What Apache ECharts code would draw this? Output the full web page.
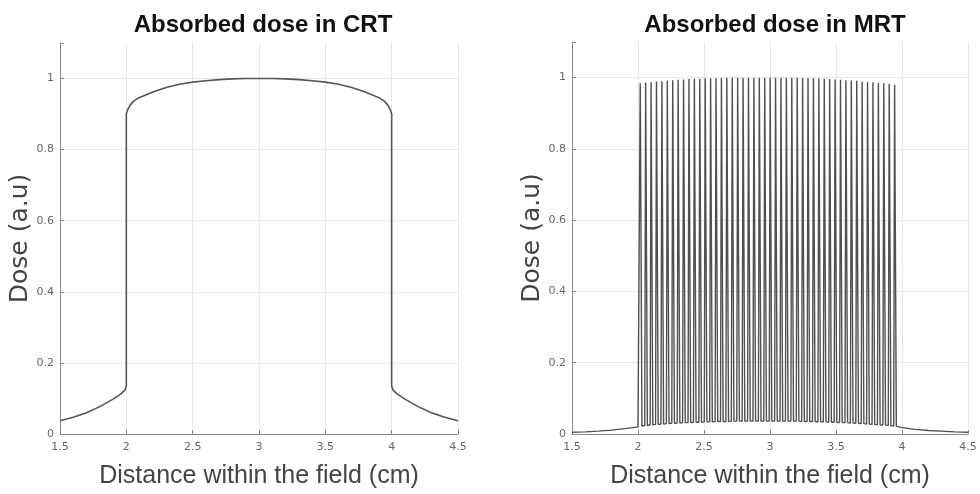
<!DOCTYPE html>
<html>
<head>
<meta charset="utf-8">
<script src="https://cdn.jsdelivr.net/npm/echarts@6/dist/echarts.min.js"></script>
<style>html,body{margin:0;padding:0;background:#fff;}#c{width:980px;height:494px;}</style>
</head>
<body>
<div id="c"></div>
<script>
// ---- Data ----
const xTicks = [1.5, 2, 2.5, 3, 3.5, 4, 4.5];
const yTicks = [0, 0.2, 0.4, 0.6, 0.8, 1];

// CRT dose profile
const crtX = [1.5, 1.6, 1.7, 1.8, 1.9, 1.96, 1.99, 2.0, 2.0, 2.01, 2.03, 2.06, 2.1, 2.2, 2.3, 2.4, 2.5, 2.6, 2.7, 2.8, 2.9, 3.0, 3.1, 3.2, 3.3, 3.4, 3.5, 3.6, 3.7, 3.8, 3.9, 3.94, 3.97, 3.99, 4.0, 4.0, 4.01, 4.04, 4.1, 4.2, 4.3, 4.4, 4.5];
const crtY = [0.037, 0.047, 0.060, 0.077, 0.098, 0.113, 0.124, 0.135, 0.900, 0.912, 0.926, 0.938, 0.947, 0.962, 0.975, 0.984, 0.990, 0.994, 0.997, 0.999, 1.000, 1.000, 1.000, 0.999, 0.997, 0.994, 0.990, 0.984, 0.975, 0.962, 0.947, 0.938, 0.926, 0.912, 0.900, 0.135, 0.124, 0.113, 0.098, 0.077, 0.060, 0.047, 0.037];

// MRT dose profile: peak centres, peak heights, valley heights
const mrtPeakX = [2.020, 2.061, 2.102, 2.143, 2.184, 2.225, 2.266, 2.307, 2.348, 2.389,
  2.430, 2.471, 2.512, 2.553, 2.594, 2.635, 2.676, 2.717, 2.758, 2.799,
  2.840, 2.881, 2.922, 2.963, 3.004, 3.045, 3.086, 3.127, 3.168, 3.209,
  3.250, 3.291, 3.332, 3.373, 3.414, 3.455, 3.496, 3.537, 3.578, 3.619,
  3.660, 3.701, 3.742, 3.783, 3.824, 3.865, 3.906, 3.947];
const mrtPeakY = [0.984, 0.986, 0.987, 0.989, 0.990, 0.991, 0.993, 0.994, 0.995, 0.996,
  0.997, 0.997, 0.998, 0.998, 0.999, 0.999, 1.0, 1.0, 1.0, 1.0,
  1.0, 1.0, 1.0, 1.0, 1.0, 1.0, 1.0, 1.0, 1.0, 1.0,
  0.999, 0.999, 0.998, 0.998, 0.997, 0.996, 0.995, 0.994, 0.993, 0.992,
  0.991, 0.989, 0.988, 0.987, 0.985, 0.984, 0.982, 0.980];
const mrtValleyY = [0.022, 0.024, 0.026, 0.027, 0.028, 0.029, 0.030, 0.031, 0.032, 0.032,
  0.033, 0.033, 0.034, 0.034, 0.035, 0.035, 0.035, 0.036, 0.036, 0.036,
  0.036, 0.036, 0.036, 0.036, 0.036, 0.036, 0.036, 0.036, 0.036, 0.036,
  0.035, 0.035, 0.035, 0.034, 0.034, 0.033, 0.033, 0.032, 0.032, 0.031,
  0.030, 0.029, 0.028, 0.027, 0.026, 0.025, 0.024, 0.022];
const mrtPeakHalfWidth = 0.010;
const mrtPeakTopHalfWidth = 0.003;
const mrtLeftTailX = [1.5, 1.6, 1.7, 1.8, 1.9, 1.96, 2.0];
const mrtLeftTailY = [0.005, 0.006, 0.008, 0.011, 0.015, 0.018, 0.020];
const mrtRightTailX = [3.96, 4.0, 4.1, 4.2, 4.3, 4.4, 4.5];
const mrtRightTailY = [0.020, 0.018, 0.013, 0.010, 0.008, 0.006, 0.005];

// ---- Build series points ----
const crtData = crtX.map((x, i) => [x, crtY[i]]);
const mrtData = [];
mrtLeftTailX.forEach((x, i) => mrtData.push([x, mrtLeftTailY[i]]));
mrtPeakX.forEach((c, i) => {
  mrtData.push([c - mrtPeakHalfWidth, mrtValleyY[i]]);
  mrtData.push([c - mrtPeakTopHalfWidth, mrtPeakY[i]]);
  mrtData.push([c + mrtPeakTopHalfWidth, mrtPeakY[i]]);
  mrtData.push([c + mrtPeakHalfWidth, mrtValleyY[i]]);
});
mrtRightTailX.forEach((x, i) => mrtData.push([x, mrtRightTailY[i]]));

const chart = echarts.init(document.getElementById('c'), null, {renderer: 'canvas'});

function xAxisCfg(gi) {
  return {
    type: 'value', gridIndex: gi, min: 1.5, max: 4.5, interval: 0.5,
    name: 'Distance within the field (cm)', nameLocation: 'middle', nameGap: 30,
    nameTextStyle: {fontFamily: 'Liberation Sans', fontSize: 25, color: '#444'},
    axisLine: {show: true, onZero: false, lineStyle: {color: '#888', width: 1}},
    axisTick: {show: true, inside: true, length: 4, lineStyle: {color: '#888'}},
    axisLabel: {fontFamily: 'DejaVu Sans', fontSize: 11, color: '#666', margin: 8,
      showMinLabel: true, showMaxLabel: true},
    splitLine: {show: true, lineStyle: {color: '#e8e8e8', width: 1}}
  };
}
function yAxisCfg(gi) {
  return {
    type: 'value', gridIndex: gi, min: 0, max: 1.1, interval: 0.2,
    name: 'Dose (a.u)', nameLocation: 'middle', nameGap: 27,
    nameTextStyle: {fontFamily: 'DejaVu Sans', fontSize: 25, color: '#444'},
    axisLine: {show: true, onZero: false, lineStyle: {color: '#888', width: 1}},
    axisTick: {show: true, inside: true, length: 4, lineStyle: {color: '#888'}},
    axisLabel: {fontFamily: 'DejaVu Sans', fontSize: 11, color: '#666', margin: 6,
      formatter: v => (Math.abs(v - 1.1) < 1e-6 ? '' : String(+v.toFixed(1)))},
    splitLine: {show: true, showMaxLine: false, lineStyle: {color: '#e8e8e8', width: 1}}
  };
}

chart.setOption({
  animation: false,
  backgroundColor: '#fff',
  title: [
    {text: 'Absorbed dose in CRT', left: 258, top: 8, textAlign: 'center',
      textStyle: {fontFamily: 'Liberation Sans', fontWeight: 'bold', fontSize: 24, color: '#111'}},
    {text: 'Absorbed dose in MRT', left: 770, top: 8, textAlign: 'center',
      textStyle: {fontFamily: 'Liberation Sans', fontWeight: 'bold', fontSize: 24, color: '#111'}}
  ],
  grid: [
    {left: 60, right: 522, top: 43, bottom: 58},
    {left: 572, right: 12, top: 42, bottom: 60}
  ],
  xAxis: [xAxisCfg(0), xAxisCfg(1)],
  yAxis: [yAxisCfg(0), yAxisCfg(1)],
  series: [
    {type: 'line', xAxisIndex: 0, yAxisIndex: 0, data: crtData, showSymbol: false,
      lineStyle: {color: '#555', width: 1.6}, z: 3},
    {type: 'line', xAxisIndex: 1, yAxisIndex: 1, data: mrtData, showSymbol: false,
      sampling: null, lineStyle: {color: '#505050', width: 1.4}, z: 3}
  ]
});
</script>
</body>
</html>
